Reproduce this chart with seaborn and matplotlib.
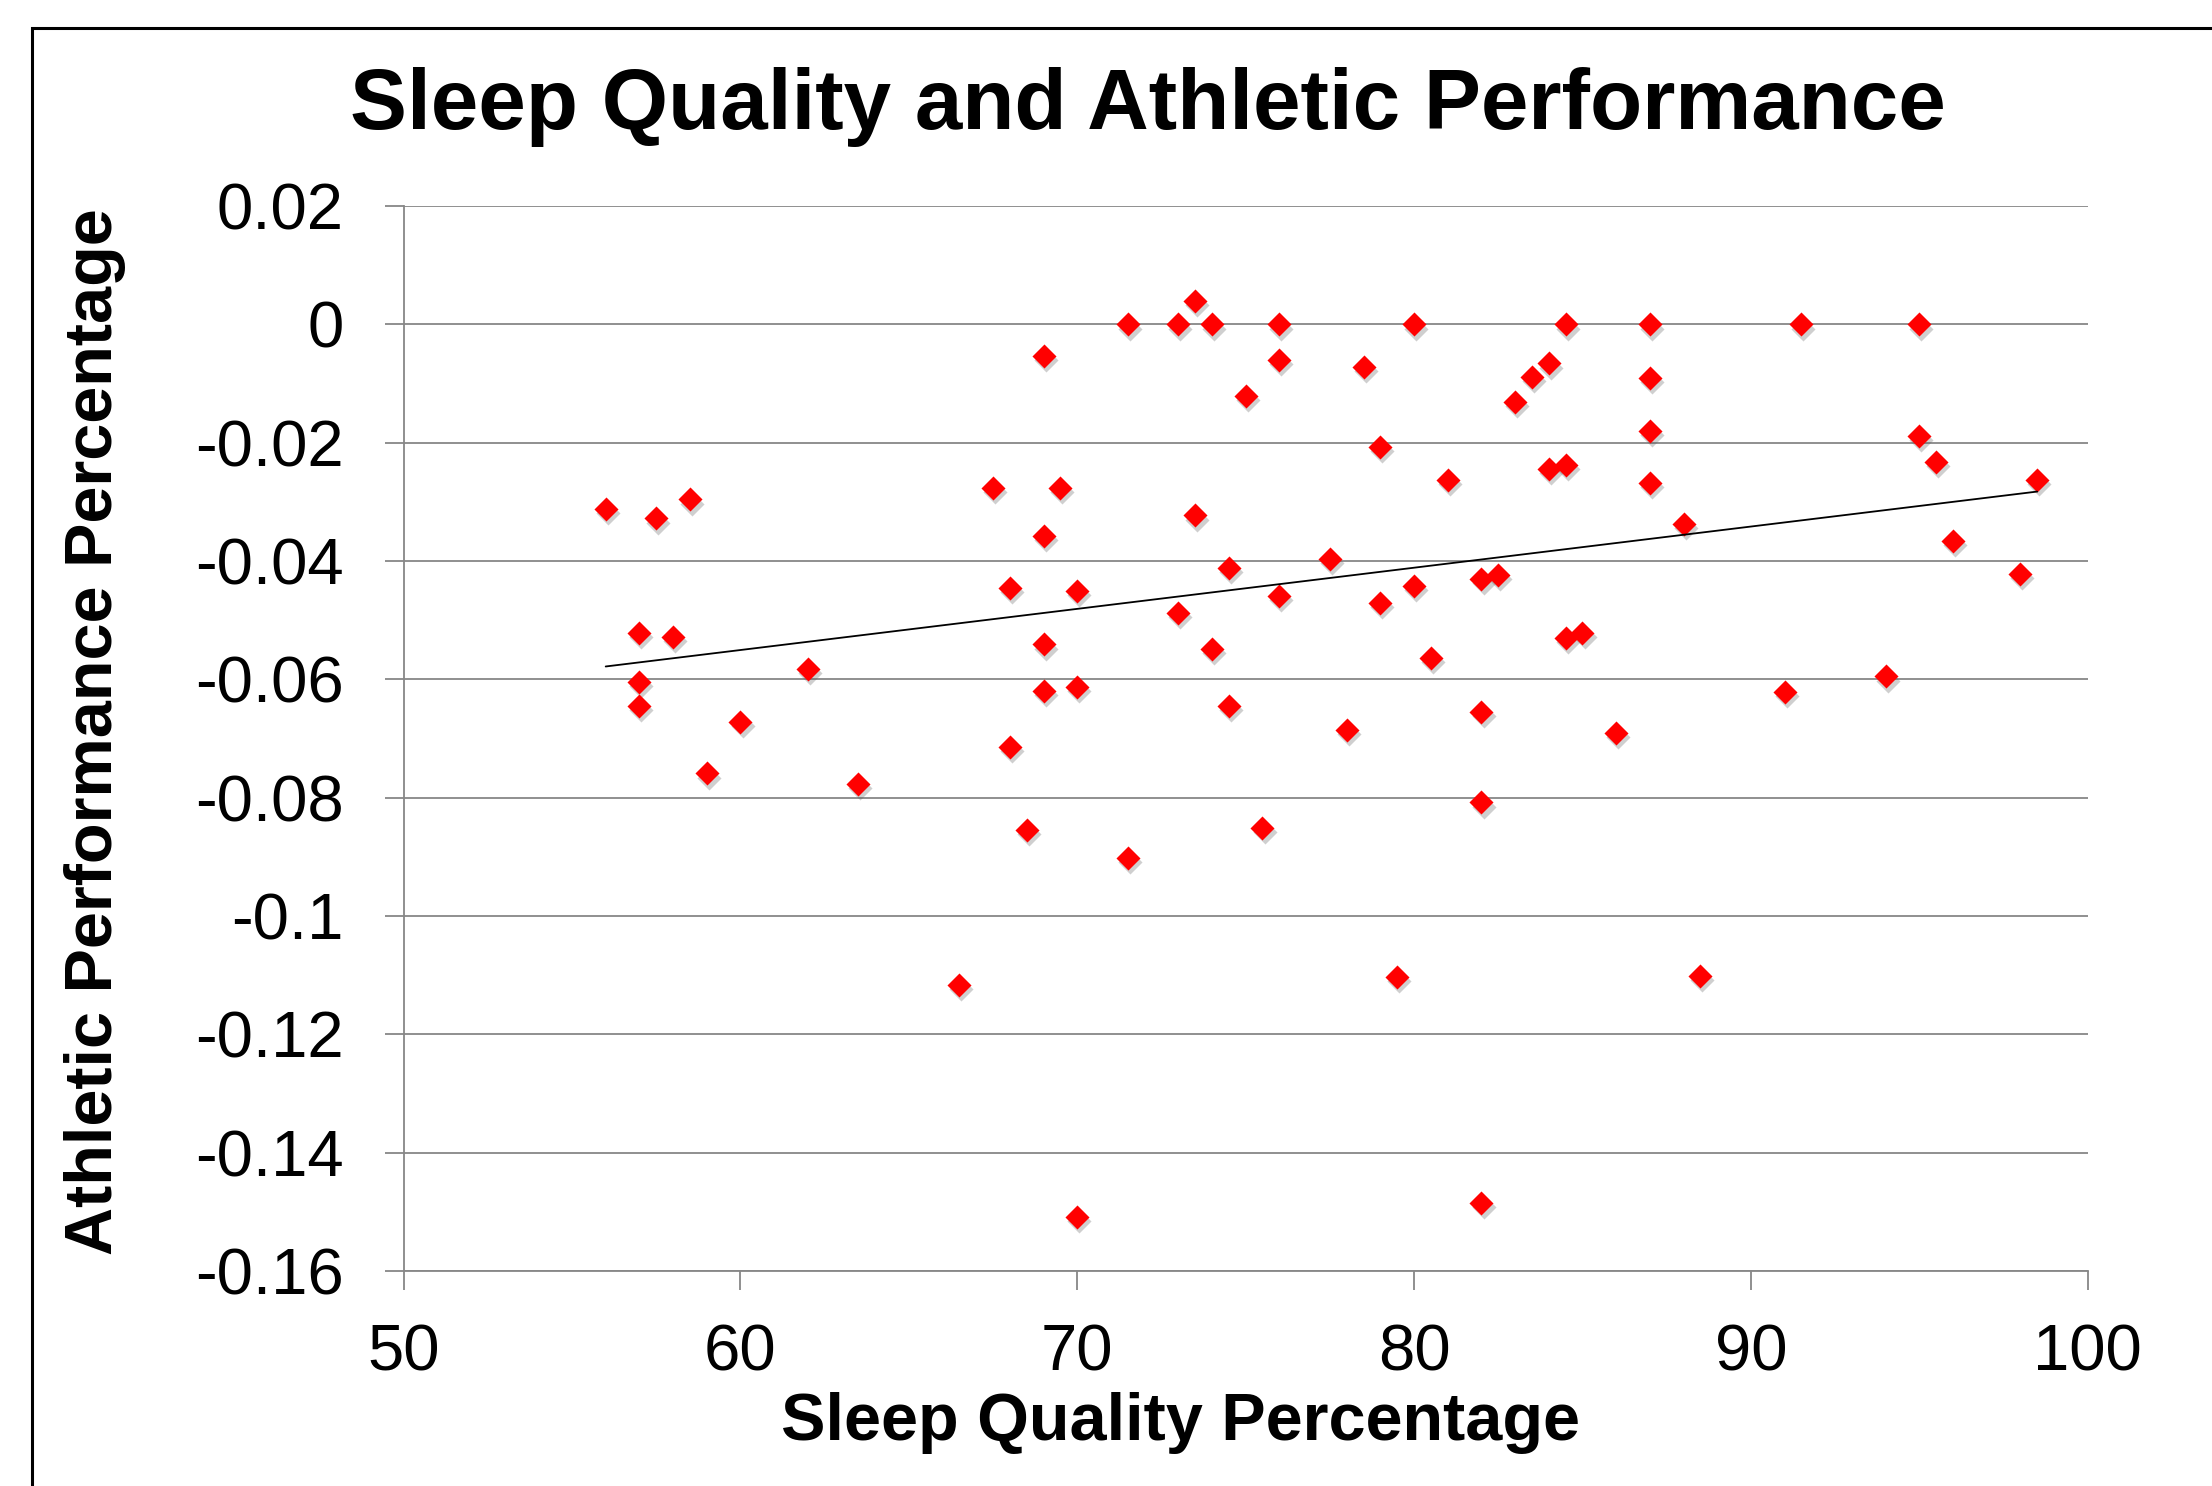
import numpy as np
import pandas as pd
import seaborn as sns
import matplotlib.pyplot as plt
from matplotlib.patches import Rectangle
from matplotlib.transforms import ScaledTranslation

# sleep quality (%) vs athletic performance change
sleep_quality = [56, 57.5, 58.5, 57, 58, 57, 57, 59, 60, 62,
                 63.5, 66.5, 67.5, 68, 68, 68.5, 69, 69, 69, 69,
                 69.5, 70, 70, 70, 71.5, 71.5, 73, 73, 73.5, 73.5,
                 74, 74, 74.5, 74.5, 75, 75.5, 76, 76, 76, 77.5,
                 78, 78.5, 79, 79, 79.5, 80, 80, 80.5, 81, 82,
                 82, 82, 82, 82.5, 83, 83.5, 84, 84, 84.5, 84.5,
                 84.5, 85, 86, 87, 87, 87, 87, 88, 88.5, 91,
                 91.5, 94, 95, 95, 95.5, 96, 98, 98.5]
performance = [-0.0312, -0.0328, -0.0296, -0.0522, -0.0529, -0.0604, -0.0645, -0.0759, -0.0672, -0.0583,
               -0.0777, -0.1116, -0.0276, -0.0445, -0.0714, -0.0855, -0.0053, -0.0357, -0.0541, -0.0619,
               -0.0276, -0.0451, -0.0613, -0.1509, 0.0, -0.0902, 0.0, -0.0488, 0.0040, -0.0323,
               0.0, -0.0549, -0.0412, -0.0645, -0.0121, -0.0851, 0.0, -0.0060, -0.0459, -0.0396,
               -0.0686, -0.0072, -0.0207, -0.0471, -0.1103, 0.0, -0.0442, -0.0564, -0.0263, -0.0430,
               -0.0655, -0.0808, -0.1485, -0.0424, -0.0131, -0.0089, -0.0066, -0.0245, 0.0, -0.0238,
               -0.0530, -0.0522, -0.0691, 0.0, -0.0091, -0.0180, -0.0268, -0.0337, -0.1101, -0.0621,
               0.0, -0.0595, 0.0, -0.0188, -0.0233, -0.0366, -0.0422, -0.0263]

x_ticks = [50, 60, 70, 80, 90, 100]
y_ticks = [0.02, 0, -0.02, -0.04, -0.06, -0.08, -0.1, -0.12, -0.14, -0.16]
y_tick_labels = ["0.02", "0", "-0.02", "-0.04", "-0.06", "-0.08", "-0.1", "-0.12", "-0.14", "-0.16"]

df = pd.DataFrame({"sleep": sleep_quality, "perf": performance})

sns.set_style("white")
plt.rcParams["font.family"] = ["Liberation Sans", "DejaVu Sans"]
plt.rcParams["text.color"] = "black"
plt.rcParams["xtick.labelcolor"] = "black"
plt.rcParams["ytick.labelcolor"] = "black"

grey = "#878787"

fig = plt.figure(figsize=(22.12, 14.86), dpi=100)
ax = fig.add_axes([0.18246, 0.14468, 0.76135, 0.71669])

# soft drop shadow under the markers
sns.scatterplot(data=df, x="sleep", y="perf", marker="D", s=150, color="#606060",
                alpha=0.3, linewidth=0, ax=ax, zorder=3)
shadow = ax.collections[-1]
shadow.set_offset_transform(ax.transData + ScaledTranslation(1.5 / 72, -3 / 72, fig.dpi_scale_trans))

sns.scatterplot(data=df, x="sleep", y="perf", marker="D", s=150, color="#ff0000",
                linewidth=0, ax=ax, zorder=4)

# linear trend line over the data range
sns.regplot(data=df, x="sleep", y="perf", scatter=False, ci=None, truncate=True,
            line_kws={"color": "black", "linewidth": 1.3, "zorder": 5}, ax=ax)

ax.set_xlim(50, 100)
ax.set_ylim(-0.16, 0.02)
ax.set_xticks(x_ticks)
ax.set_xticklabels([str(t) for t in x_ticks])
ax.set_yticks(y_ticks)
ax.set_yticklabels(y_tick_labels)

ax.grid(axis="y", color=grey, linewidth=1.3, zorder=0)
ax.set_axisbelow(True)
for side in ["top", "right"]:
    ax.spines[side].set_visible(False)
for side in ["left", "bottom"]:
    ax.spines[side].set_color(grey)
    ax.spines[side].set_linewidth(1.3)

ax.tick_params(axis="x", length=14, width=1.3, color=grey, pad=24, labelsize=47,
               labelcolor="black", bottom=True)
ax.tick_params(axis="y", length=14, width=1.3, color=grey, pad=29, labelsize=47,
               labelcolor="black", left=True)

ax.set_xlabel("")
ax.set_ylabel("")

fig.text(1180.5 / 2212, 1 - 1440 / 1486, "Sleep Quality Percentage", ha="center", va="baseline",
         fontsize=48, fontweight="bold", color="black")
fig.text(111.7 / 2212, 1 - 732 / 1486, "Athletic Performance Percentage", ha="center", va="baseline",
         rotation=90, rotation_mode="anchor", fontsize=48, fontweight="bold", color="black")
fig.text(1148 / 2212, 1 - 129 / 1486, "Sleep Quality and Athletic Performance", ha="center",
         va="baseline", fontsize=61.5, fontweight="bold", color="black")

# chart area border (runs off the right and bottom edges)
fig.patches.append(Rectangle((32 / 2212, -0.1), 1.2, 1 - 28.5 / 1486 + 0.1, transform=fig.transFigure,
                             fill=False, edgecolor="black", linewidth=2.2))

fig.savefig("out.png", dpi=100)
